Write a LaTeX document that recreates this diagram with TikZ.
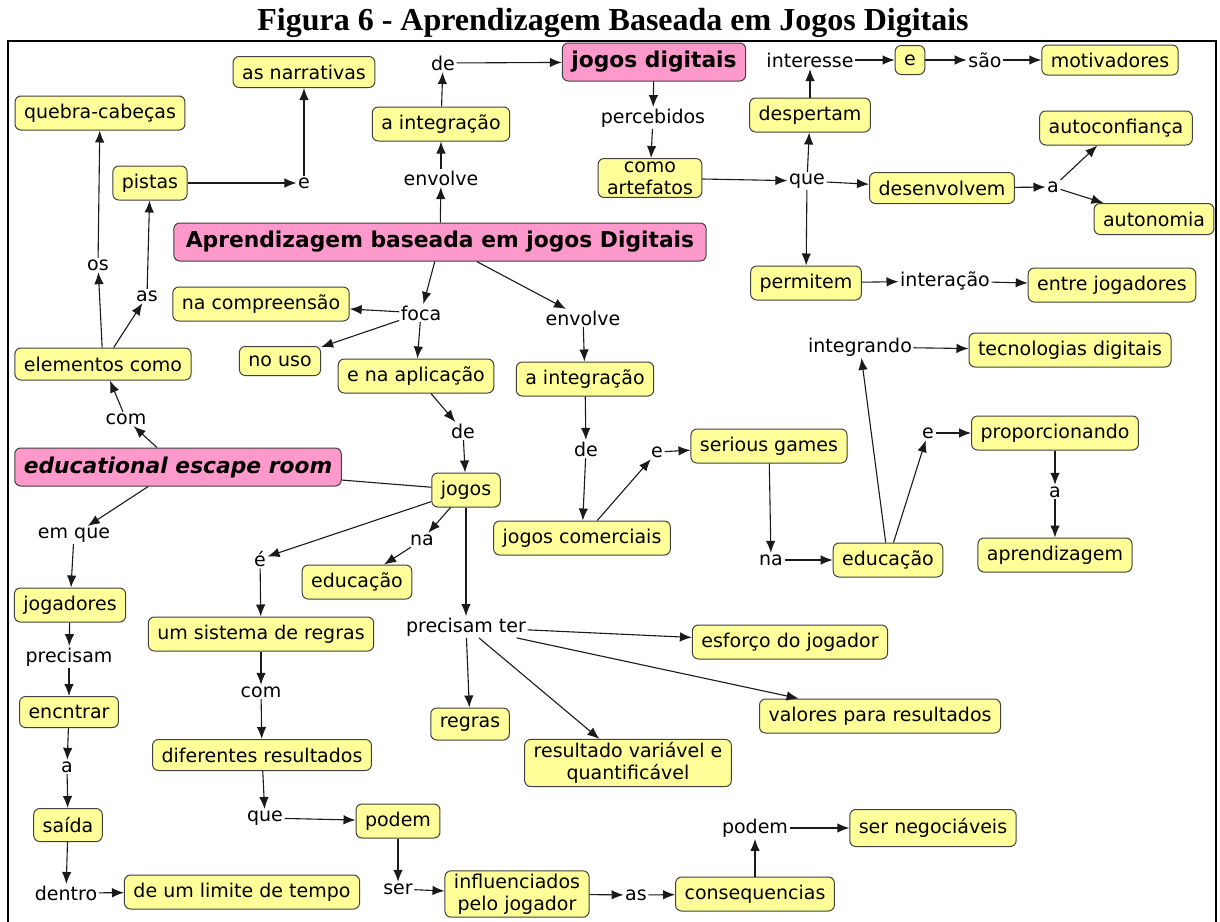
\documentclass[tikz,border=0pt]{standalone}
\usepackage{fontspec}
\setmainfont{DejaVu Sans}
\newfontfamily\titlefont{Liberation Serif}
\usetikzlibrary{arrows.meta}
\definecolor{cy}{HTML}{FFFF99}
\definecolor{cp}{HTML}{FF99CC}
\definecolor{bd}{HTML}{404040}
\definecolor{ink}{HTML}{1A1A1A}
\begin{document}
\begin{tikzpicture}[x=1pt,y=-1pt,
  concept/.style={draw=bd, line width=1pt, fill=cy, rounded corners=6pt, inner xsep=9pt, inner ysep=3pt, minimum height=34pt, align=center, font=\fontsize{19}{22}\selectfont},
  hub/.style={concept, fill=cp, minimum height=38pt, font=\fontsize{21.8}{24}\selectfont\bfseries},
  lp/.style={inner sep=1.5pt, font=\fontsize{19}{22}\selectfont},
  arr/.style={-{Latex[length=12pt,width=9.5pt]}, line width=1.1pt, draw=ink},
  ln/.style={line width=1.1pt, draw=ink}]
\useasboundingbox (0,0) rectangle (1220,921);
\clip (0,0) rectangle (1220,921);
\fill[white] (0,0) rectangle (1220,921);
\node[font=\titlefont\fontsize{32}{36}\selectfont\bfseries, anchor=base, inner sep=0pt] (title) at (613,30) {Figura 6 - Aprendizagem Baseada em Jogos Digitais};
\draw[line width=2pt] (8,990) -- (8,41) -- (1216,41) -- (1216,990);

% concepts
\node[concept, minimum height=31pt] (narr) at (304,72) {as narrativas};
\node[concept] (quebra) at (100,113) {quebra-cabeças};
\node[concept] (integ1) at (441,124) {a integração};
\node[hub] (jd) at (654,62) {jogos digitais};
\node[concept] (pistas) at (150,183) {pistas};
\node[hub, inner xsep=12pt] (aprend) at (440,242) {Aprendizagem baseada em jogos Digitais};
\node[concept] (desp) at (810,115) {despertam};
\node[concept, minimum height=29pt] (ebox) at (910,60) {e};
\node[concept, minimum height=30pt] (motiv) at (1110,60) {motivadores};
\node[concept] (artef) at (650,178) {como\\artefatos};
\node[concept, minimum height=31pt] (desenv) at (942,188) {desenvolvem};
\node[concept] (autoconf) at (1116,128) {autoconfiança};
\node[concept, minimum height=31pt] (autonomia) at (1154,219) {autonomia};
\node[concept] (permitem) at (806,283) {permitem};
\node[concept] (entre) at (1112,285) {entre jogadores};
\node[concept] (nacomp) at (261,304) {na compreensão};
\node[concept, minimum height=29pt] (nouso) at (280,361) {no uso};
\node[concept, minimum height=32pt] (elem) at (103,364) {elementos como};
\node[concept] (aplic) at (416,376) {e na aplicação};
\node[concept] (integ2) at (585,379) {a integração};
\node[concept] (tec) at (1070,350) {tecnologias digitais};
\node[concept] (propor) at (1055,433) {proporcionando};
\node[concept] (serious) at (769,446) {serious games};
\node[hub] (escape) at (178,467) {\itshape educational escape room};
\node[concept] (jogos) at (466,490) {jogos};
\node[concept] (jcom) at (582,538) {jogos comerciais};
\node[concept] (educR) at (888,560) {educação};
\node[concept] (aprendiz) at (1055,555) {aprendizagem};
\node[concept] (educL) at (357,582) {educação};
\node[concept] (jogadores) at (70,605) {jogadores};
\node[concept] (sistema) at (261,634) {um sistema de regras};
\node[concept] (esforco) at (790,642) {esforço do jogador};
\node[concept, minimum height=32pt] (regras) at (470,724) {regras};
\node[concept] (valores) at (880,716) {valores para resultados};
\node[concept] (result) at (628,763) {resultado variável e\\quantificável};
\node[concept, minimum height=31pt] (encntrar) at (69,712) {encntrar};
\node[concept, minimum height=31pt] (difer) at (262,755) {diferentes resultados};
\node[concept] (podem) at (398,821) {podem};
\node[concept, minimum height=33pt] (saida) at (68,825) {saída};
\node[concept, minimum height=37pt] (sernego) at (933,828) {ser negociáveis};
\node[concept] (limite) at (242,892) {de um limite de tempo};
\node[concept] (influ) at (517,894) {influenciados\\pelo jogador};
\node[concept] (conseq) at (755,894) {consequencias};

% linking phrases
\node[lp] (de1) at (443,63) {de};
\node[lp] (perceb) at (653,118) {percebidos};
\node[lp] (env1) at (441,178) {envolve};
\node[lp] (epist) at (304,183) {e};
\node[lp] (interesse) at (810,60) {interesse};
\node[lp] (sao) at (985,60) {são};
\node[lp] (que) at (807,181) {que};
\node[lp] (a1) at (1053,187) {a};
\node[lp] (interacao) at (945,281) {interação};
\node[lp] (os) at (98,265) {os};
\node[lp] (as1) at (147,296) {as};
\node[lp] (foca) at (421,313) {foca};
\node[lp] (env2) at (583,318) {envolve};
\node[lp] (com1) at (126,419) {com};
\node[lp] (de2) at (463,431) {de};
\node[lp] (de3) at (586,449) {de};
\node[lp] (e2) at (657,452) {e};
\node[lp] (integrando) at (860,347) {integrando};
\node[lp] (e3) at (928,433) {e};
\node[lp] (a2) at (1055,492) {a};
\node[lp] (na1) at (422,540) {na};
\node[lp] (emque) at (74,535) {em que};
\node[lp] (eacc) at (260,559) {é};
\node[lp] (na2) at (771,560) {na};
\node[lp] (precter) at (466,627) {precisam ter};
\node[lp] (precisam) at (69,657) {precisam};
\node[lp] (com2) at (261,692) {com};
\node[lp] (a3) at (67,767) {a};
\node[lp] (que2) at (265,818) {que};
\node[lp] (podem2) at (755,828) {podem};
\node[lp] (dentro) at (66,893) {dentro};
\node[lp] (ser) at (398,889) {ser};
\node[lp] (as2) at (636,895) {as};

% connectors
\draw[arr] (aprend) -- (env1);
\draw[arr] (env1) -- (integ1);
\draw[arr] (integ1) -- (de1);
\draw[arr] (de1) -- (jd);
\draw[arr] (jd) -- (perceb);
\draw[arr] (perceb) -- (artef);
\draw[arr] (artef) -- (que);
\draw[arr] (que) -- (desenv);
\draw[arr] (que) -- (desp);
\draw[arr] (que) -- (permitem);
\draw[arr] (desp) -- (interesse);
\draw[arr] (interesse) -- (ebox);
\draw[arr] (ebox) -- (sao);
\draw[arr] (sao) -- (motiv);
\draw[arr] (desenv) -- (a1);
\draw[arr] (a1) -- (autoconf);
\draw[arr] (a1) -- (autonomia);
\draw[arr] (permitem) -- (interacao);
\draw[arr] (interacao) -- (entre);
\draw[arr] (aprend) -- (foca);
\draw[arr] (foca) -- (nacomp);
\draw[arr] (foca) -- (nouso);
\draw[arr] (foca) -- (aplic);
\draw[arr] (aplic) -- (de2);
\draw[arr] (de2) -- (jogos);
\draw[arr] (aprend) -- (env2);
\draw[arr] (env2) -- (integ2);
\draw[arr] (integ2) -- (de3);
\draw[arr] (de3) -- (jcom);
\draw[arr] (jcom) -- (e2);
\draw[arr] (e2) -- (serious);
\draw[arr] (serious) -- (na2);
\draw[arr] (na2) -- (educR);
\draw[arr] (educR) -- (integrando);
\draw[arr] (integrando) -- (tec);
\draw[arr] (educR) -- (e3);
\draw[arr] (e3) -- (propor);
\draw[arr] (propor) -- (a2);
\draw[arr] (a2) -- (aprendiz);
\draw[arr] (pistas) -- (epist);
\draw[arr] (epist) -- (narr);
\draw[arr] (elem) -- (os);
\draw[arr] (os) -- (quebra);
\draw[arr] (elem) -- (as1);
\draw[arr] (as1) -- (pistas);
\draw[arr] (escape) -- (com1);
\draw[arr] (com1) -- (elem);
\draw[arr] (escape) -- (emque);
\draw[arr] (emque) -- (jogadores);
\draw[ln] (escape) -- (jogos);
\draw[arr] (jogos) -- (eacc);
\draw[arr] (jogos) -- (na1);
\draw[arr] (na1) -- (educL);
\draw[arr] (jogos) -- (precter);
\draw[arr] (eacc) -- (sistema);
\draw[arr] (precter) -- (esforco);
\draw[arr] (precter) -- (valores);
\draw[arr] (precter) -- (regras);
\draw[arr] (precter) -- (result);
\draw[arr] (sistema) -- (com2);
\draw[arr] (com2) -- (difer);
\draw[arr] (difer) -- (que2);
\draw[arr] (que2) -- (podem);
\draw[arr] (podem) -- (ser);
\draw[arr] (ser) -- (influ);
\draw[arr] (influ) -- (as2);
\draw[arr] (as2) -- (conseq);
\draw[arr] (conseq) -- (podem2);
\draw[arr] (podem2) -- (sernego);
\draw[arr] (jogadores) -- (precisam);
\draw[arr] (precisam) -- (encntrar);
\draw[arr] (encntrar) -- (a3);
\draw[arr] (a3) -- (saida);
\draw[arr] (saida) -- (dentro);
\draw[arr] (dentro) -- (limite);
\end{tikzpicture}
\end{document}
